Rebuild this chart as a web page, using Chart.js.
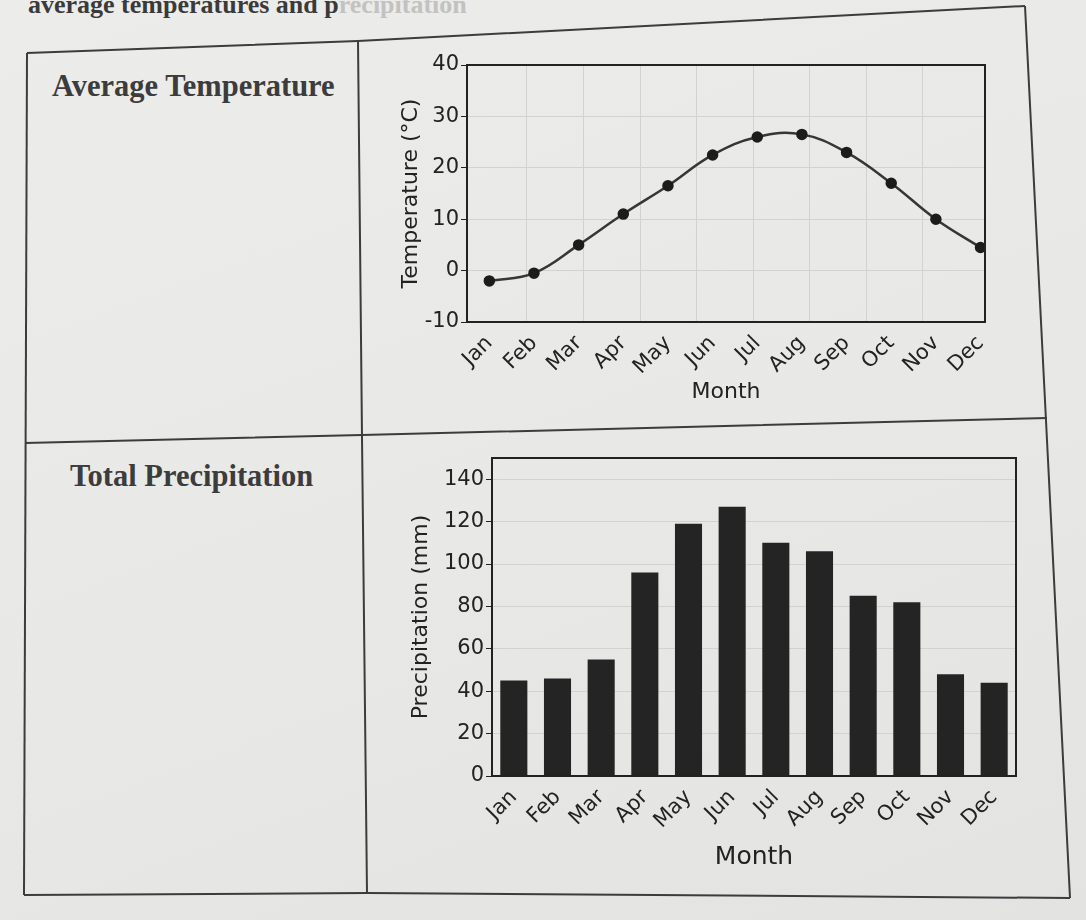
<!DOCTYPE html>
<html>
<head>
<meta charset="utf-8">
<title>Average temperature and total precipitation</title>
<script src="https://cdn.jsdelivr.net/npm/chart.js@4.4.1/dist/chart.umd.min.js"></script>
<style>
  html, body {
    margin: 0;
    padding: 0;
  }
  body {
    width: 1086px;
    height: 920px;
    position: relative;
    overflow: hidden;
    background: linear-gradient(160deg, #ececea 0%, #e8e8e6 55%, #e3e3e1 100%);
    font-family: "Liberation Serif", serif;
    color: #333;
  }
  .heading {
    position: absolute;
    left: 28px;
    top: -10px;
    font-size: 26px;
    font-weight: bold;
    white-space: nowrap;
    color: #3a3a3a;
  }
  .heading .faded {
    color: #c2c2c0;
  }
  .cell-label {
    position: absolute;
    font-size: 30.5px;
    font-weight: bold;
    color: #3c3c3c;
    white-space: nowrap;
  }
  #tableLines {
    position: absolute;
    left: 0;
    top: 0;
  }
  .chart-box {
    position: absolute;
  }
</style>
</head>
<body>

<div class="heading">average temperatures and p<span class="faded">recipitation</span></div>

<svg id="tableLines" width="1086" height="920">
  <g fill="none" stroke="#3a3c3e" stroke-width="2">
    <polyline points="27,53 358,41 1025,6"></polyline>
    <polyline points="25,443 362,435 1047,418"></polyline>
    <polyline points="24,895 367,893 1070,898"></polyline>
    <polyline points="27,53 24,895"></polyline>
    <polyline points="358,41 362,437 367,893"></polyline>
    <polyline points="1025,6 1048,460 1070,898"></polyline>
  </g>
</svg>

<div class="cell-label" style="left:52px; top:69px;">Average Temperature</div>
<div class="cell-label" style="left:70px; top:459px;">Total Precipitation</div>

<div class="chart-box" style="left:372px; top:30px; width:628px; height:382px;">
  <canvas id="temperatureChart"></canvas>
</div>
<div class="chart-box" style="left:382px; top:430px; width:648px; height:446px;">
  <canvas id="precipitationChart"></canvas>
</div>

<script>
// chart data
const months = ['Jan', 'Feb', 'Mar', 'Apr', 'May', 'Jun', 'Jul', 'Aug', 'Sep', 'Oct', 'Nov', 'Dec'];
const avgTemperature = [-2, -0.5, 5, 11, 16.5, 22.5, 26, 26.5, 23, 17, 10, 4.5];
const totalPrecipitation = [45, 46, 55, 96, 119, 127, 110, 106, 85, 82, 48, 44];
const temperatureTicks = [-10, 0, 10, 20, 30, 40];
const precipitationTicks = [0, 20, 40, 60, 80, 100, 120, 140];

const inkColor = '#222222';
const gridColor = '#d2d2d0';

Chart.defaults.font.family = '"DejaVu Sans", Verdana, sans-serif';
Chart.defaults.color = inkColor;

// draws the closed box around the plot area
const plotFrame = {
  id: 'plotFrame',
  afterDraw(chart) {
    const area = chart.chartArea;
    const ctx = chart.ctx;
    ctx.save();
    ctx.strokeStyle = inkColor;
    ctx.lineWidth = 2;
    ctx.strokeRect(area.left, area.top, area.right - area.left, area.bottom - area.top);
    ctx.restore();
  }
};

function fixWidth(w) {
  return function (scale) { scale.width = w; };
}

function fixHeight(h) {
  return function (scale) {
    scale.height = h;
    scale.paddingLeft = 0;
    scale.paddingRight = 0;
  };
}

// Temperature line chart
const temperaturePoints = avgTemperature.map((t, i) => ({ x: i, y: t }));

new Chart(document.getElementById('temperatureChart').getContext('2d'), {
  type: 'line',
  data: {
    datasets: [{
      data: temperaturePoints,
      borderColor: '#363636',
      borderWidth: 2.5,
      tension: 0.4,
      pointRadius: 4.5,
      pointBackgroundColor: '#1c1c1c',
      pointBorderColor: '#1c1c1c',
      fill: false
    }]
  },
  options: {
    responsive: true,
    maintainAspectRatio: false,
    animation: false,
    layout: { padding: { left: 26, top: 35, right: 15, bottom: 0 } },
    plugins: {
      legend: { display: false },
      tooltip: { enabled: false }
    },
    scales: {
      x: {
        type: 'linear',
        min: -0.5,
        max: 11.1,
        afterBuildTicks: function (scale) {
          scale.ticks = months.map((m, i) => ({ value: i }));
        },
        afterFit: fixHeight(90),
        grid: { display: false },
        border: { color: inkColor, width: 2 },
        ticks: {
          callback: (value) => months[value],
          maxRotation: 45,
          minRotation: 45,
          padding: 1,
          font: { size: 21 }
        },
        title: {
          display: true,
          text: 'Month',
          font: { size: 22 },
          padding: { top: 0, bottom: 7 }
        }
      },
      // only gives the faint vertical grid of the original
      xGrid: {
        type: 'linear',
        position: 'bottom',
        min: -0.06,
        max: 9.1,
        afterFit: fixHeight(0),
        grid: { color: gridColor, drawTicks: false },
        border: { display: false },
        ticks: { display: false, stepSize: 1 }
      },
      y: {
        min: -10,
        max: 40,
        afterBuildTicks: function (scale) {
          scale.ticks = temperatureTicks.map(v => ({ value: v }));
        },
        afterFit: fixWidth(69),
        grid: { color: gridColor, tickColor: inkColor, tickLength: 6 },
        border: { color: inkColor, width: 2 },
        ticks: { font: { size: 21 }, padding: 2 },
        title: {
          display: true,
          text: 'Temperature (°C)',
          font: { size: 22 },
          padding: 0
        }
      }
    }
  },
  plugins: [plotFrame]
});

// Precipitation bar chart
new Chart(document.getElementById('precipitationChart').getContext('2d'), {
  type: 'bar',
  data: {
    labels: months,
    datasets: [{
      data: totalPrecipitation,
      backgroundColor: '#242424',
      borderWidth: 0,
      barPercentage: 0.62,
      categoryPercentage: 1.0
    }]
  },
  options: {
    responsive: true,
    maintainAspectRatio: false,
    animation: false,
    layout: { padding: { left: 26, top: 28, right: 14, bottom: 0 } },
    plugins: {
      legend: { display: false },
      tooltip: { enabled: false }
    },
    scales: {
      x: {
        afterFit: fixHeight(100),
        grid: { display: false },
        border: { color: inkColor, width: 2 },
        ticks: {
          maxRotation: 45,
          minRotation: 45,
          padding: 1,
          font: { size: 21 }
        },
        title: {
          display: true,
          text: 'Month',
          font: { size: 25 },
          padding: { top: 0, bottom: 4 }
        }
      },
      y: {
        min: 0,
        max: 150,
        afterBuildTicks: function (scale) {
          scale.ticks = precipitationTicks.map(v => ({ value: v }));
        },
        afterFit: fixWidth(84),
        grid: { color: gridColor, tickColor: inkColor, tickLength: 6 },
        border: { color: inkColor, width: 2 },
        ticks: { font: { size: 21 }, padding: 2 },
        title: {
          display: true,
          text: 'Precipitation (mm)',
          font: { size: 22 },
          padding: 0
        }
      }
    }
  },
  plugins: [plotFrame]
});
</script>
</body>
</html>
